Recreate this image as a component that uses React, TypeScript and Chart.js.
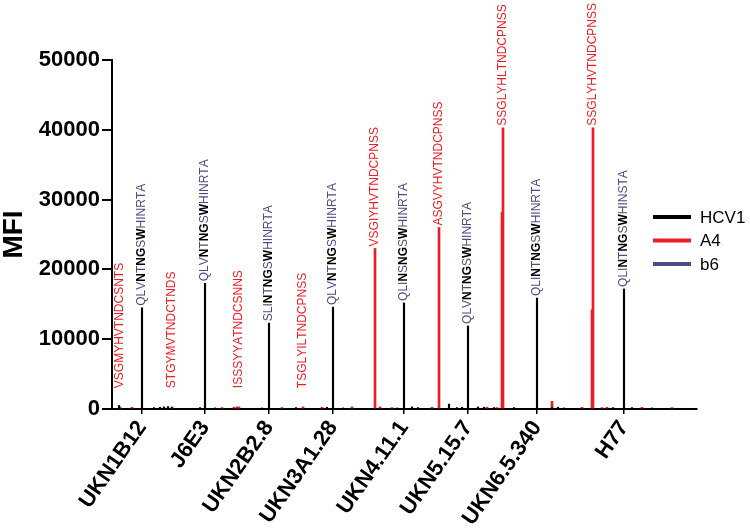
import React, { useEffect, useRef } from 'react';
import { Chart, registerables } from 'chart.js';

Chart.register(...registerables);

// ---- data ----
const strains = ['UKN1B12', 'J6E3', 'UKN2B2.8', 'UKN3A1.28', 'UKN4.11.1', 'UKN5.15.7', 'UKN6.5.340', 'H77'];
const strainPeptide = [30, 93, 157, 221, 292, 356, 425, 512];

const hcv1Peptide = [7, 30, 42, 48, 52, 56, 60, 88, 93, 103, 150, 157, 184, 215, 221, 231, 285, 292, 300, 306, 337, 345, 350, 356, 366, 372, 382, 402, 425, 440, 446, 452, 501, 512, 520, 540];
const hcv1Mfi = [500, 14500, 200, 250, 300, 350, 200, 200, 18000, 150, 150, 12300, 200, 250, 14600, 150, 150, 15200, 300, 200, 700, 200, 250, 11900, 300, 250, 200, 200, 15900, 200, 250, 150, 200, 17200, 200, 150];

const a4Peptide = [8, 20, 60, 110, 122, 125, 127, 170, 191, 210, 240, 263, 268, 280, 320, 327, 375, 385, 390, 391, 440, 470, 480, 481, 490, 495, 530, 560];
const a4Mfi = [300, 250, 300, 200, 250, 300, 300, 200, 300, 250, 300, 23000, 300, 200, 250, 26000, 250, 200, 28200, 40300, 1100, 250, 14200, 40300, 200, 250, 250, 200];

const b6Peptide: number[] = [];
const b6Mfi: number[] = [];

const hcv1Epitopes = ['QLVNTNGSWHINRTA', 'QLVNTNGSWHINRTA', 'SLINTNGSWHINRTA', 'QLVNTNGSWHINRTA', 'QLINSNGSWHINRTA', 'QLVNTNGSWHINRTA', 'QLINTNGSWHINRTA', 'QLINTNGSWHINSTA'];
const hcv1ContactResidues = [3, 5, 6, 8];
const a4Epitopes = ['VSGMYHVTNDCSNTS', 'STGYMVTNDCTNDS', 'ISSSYYATNDCSNNS', 'TSGLYILTNDCPNSS', 'VSGIYHVTNDCPNSS', 'ASGVYHVTNDCPNSS', 'SSGLYHLTNDCPNSS', 'SSGLYHVTNDCPNSS'];
const a4EpitopePeptide = [8, 60, 127, 191, 263, 327, 391, 481];

const yMin = 0;
const yMax = 50000;
const yStep = 10000;

// ---- styles ----
const FONT = "'Liberation Sans', Arial, Helvetica, sans-serif";
const RED = '#ee1c25';
const B6 = '#4d4d86';
const LABEL_FLOOR = 2700;

const spikeLabelPlugin = {
  id: 'spikeLabels',
  afterDatasetsDraw(chart: any) {
    const { ctx } = chart;
    const xs = chart.scales.x;
    const ys = chart.scales.y;
    const drawLabel = (peptide: number, text: string, value: number, color: string, bold: number[]) => {
      const x = xs.getPixelForValue(peptide);
      const y = ys.getPixelForValue(Math.max(value, LABEL_FLOOR)) - 2;
      ctx.save();
      ctx.translate(x - 0.5, y);
      ctx.rotate(-Math.PI / 2);
      ctx.textAlign = 'left';
      ctx.textBaseline = 'middle';
      let cx = 0;
      for (let i = 0; i < text.length; i++) {
        const isBold = bold.includes(i);
        ctx.font = `${isBold ? 'bold ' : ''}12px ${FONT}`;
        ctx.fillStyle = isBold ? '#000' : color;
        ctx.fillText(text[i], cx, 0);
        cx += ctx.measureText(text[i]).width;
      }
      ctx.restore();
    };
    hcv1Epitopes.forEach((t, i) => {
      const p = strainPeptide[i];
      const k = hcv1Peptide.indexOf(p);
      drawLabel(p, t, k >= 0 ? hcv1Mfi[k] : 0, B6, hcv1ContactResidues);
    });
    a4Epitopes.forEach((t, i) => {
      const p = a4EpitopePeptide[i];
      const k = a4Peptide.indexOf(p);
      drawLabel(p, t, k >= 0 ? a4Mfi[k] : 0, RED, []);
    });
  },
};

const legendPlugin = {
  id: 'insideLegend',
  afterDraw(chart: any) {
    const { ctx, chartArea } = chart;
    const x0 = chartArea.right - 44;
    const x1 = chartArea.right - 6;
    const tx = chartArea.right + 3;
    chart.data.datasets.forEach((ds: any, i: number) => {
      const y = chartArea.top + 157 + i * 23.5;
      ctx.save();
      ctx.strokeStyle = ds.backgroundColor;
      ctx.lineWidth = 4;
      ctx.beginPath();
      ctx.moveTo(x0, y);
      ctx.lineTo(x1, y);
      ctx.stroke();
      ctx.fillStyle = '#000';
      ctx.font = `17px ${FONT}`;
      ctx.textAlign = 'left';
      ctx.textBaseline = 'middle';
      ctx.fillText(ds.label, tx, y + 1);
      ctx.restore();
    });
  },
};

export default function App() {
  const ref = useRef<HTMLCanvasElement | null>(null);
  useEffect(() => {
    if (!ref.current) return;
    const toPoints = (xs: number[], ys: number[]) => xs.map((x, i) => ({ x, y: ys[i] }));
    const chart = new Chart(ref.current, {
      type: 'bar',
      data: {
        datasets: [
          { label: 'HCV1', data: toPoints(hcv1Peptide, hcv1Mfi), backgroundColor: '#000000', barThickness: 1.5, stack: 'all', borderWidth: 0 },
          { label: 'A4', data: toPoints(a4Peptide, a4Mfi), backgroundColor: RED, barThickness: 2, stack: 'all', borderWidth: 0 },
          { label: 'b6', data: toPoints(b6Peptide, b6Mfi), backgroundColor: B6, barThickness: 1.5, stack: 'all', borderWidth: 0 },
        ] as any,
      },
      options: {
        responsive: false,
        animation: false,
        layout: { padding: { left: 0, top: 60, right: 53, bottom: 0 } },
        plugins: { legend: { display: false }, tooltip: { enabled: false } },
        scales: {
          x: {
            type: 'linear',
            min: 0,
            max: 585,
            stacked: true,
            offset: false,
            afterBuildTicks: (s: any) => {
              s.ticks = strainPeptide.map((v) => ({ value: v }));
            },
            afterFit: (s: any) => {
              s.height = 122;
            },
            ticks: {
              autoSkip: false,
              minRotation: 55,
              maxRotation: 55,
              padding: 2,
              color: '#000',
              font: { family: FONT, size: 22, weight: 'bold' },
              callback: (v: any) => {
                const i = strainPeptide.indexOf(Number(v));
                return i >= 0 ? strains[i] : '';
              },
            },
            grid: { drawOnChartArea: false, drawTicks: true, tickLength: 5, color: '#000', lineWidth: 1.5, offset: false },
            border: { display: true, color: '#000', width: 2 },
          },
          y: {
            min: yMin,
            max: yMax,
            stacked: false,
            afterFit: (s: any) => {
              s.width = 112;
            },
            ticks: {
              stepSize: yStep,
              padding: 2,
              color: '#000',
              font: { family: FONT, size: 22, weight: 'bold' },
              callback: (v: any) => String(v),
            },
            title: {
              display: true,
              text: 'MFI',
              color: '#000',
              padding: 0,
              font: { family: FONT, size: 28, weight: 'bold', lineHeight: 1 },
            },
            grid: { drawOnChartArea: false, drawTicks: true, tickLength: 10, color: '#000', lineWidth: 2 },
            border: { display: true, color: '#000', width: 2 },
          },
        },
      } as any,
      plugins: [spikeLabelPlugin, legendPlugin],
    });
    return () => chart.destroy();
  }, []);
  return (
    <div style={{ position: 'fixed', left: 0, top: 0, width: 750, height: 531, background: '#fff' }}>
      <canvas ref={ref} width={750} height={531} style={{ display: 'block' }} />
    </div>
  );
}
